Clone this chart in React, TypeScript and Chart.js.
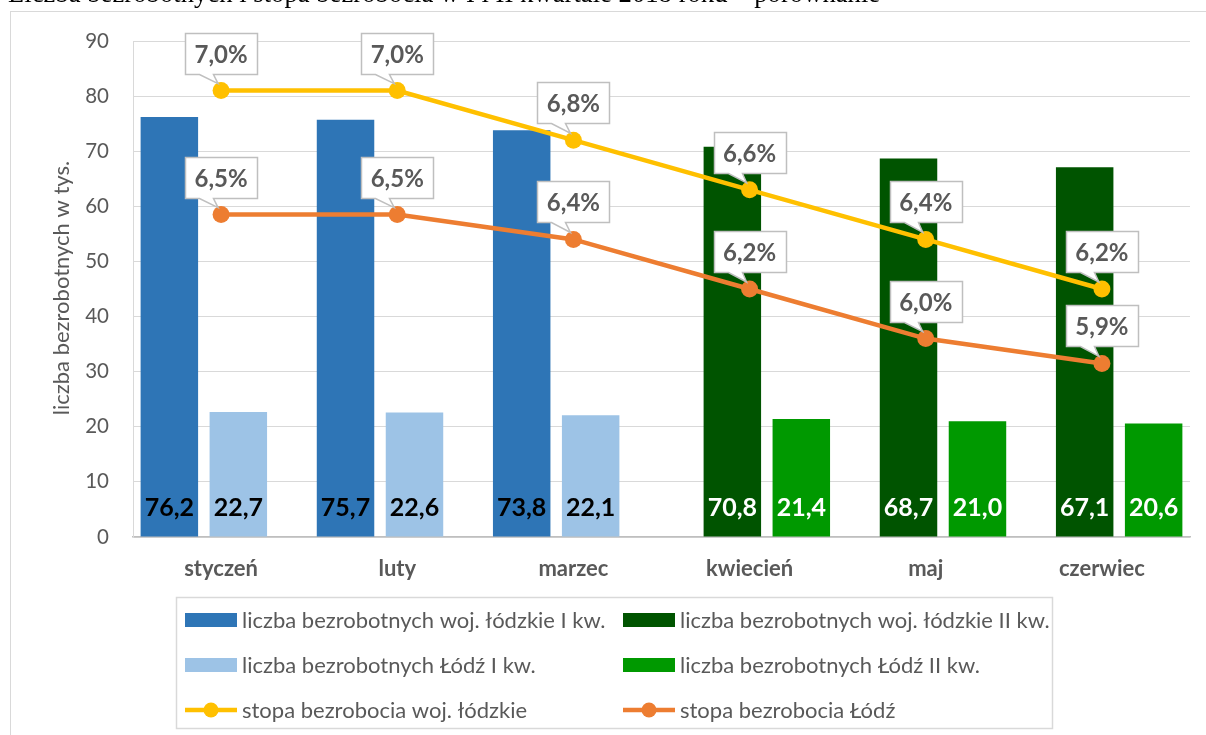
import React, { useEffect, useRef } from "react";
import { Chart, registerables } from "chart.js";

Chart.register(...registerables);

const FONT = "Lato";
const GRAY = "#595959";

const months = ["styczeń", "luty", "marzec", "kwiecień", "maj", "czerwiec"];
const wojQ1 = [76.2, 75.7, 73.8, null, null, null];
const wojQ2 = [null, null, null, 70.8, 68.7, 67.1];
const lodzQ1 = [22.7, 22.6, 22.1, null, null, null];
const lodzQ2 = [null, null, null, 21.4, 21.0, 20.6];
const rateWoj = [7.0, 7.0, 6.8, 6.6, 6.4, 6.2];
const rateLodz = [6.5, 6.5, 6.4, 6.2, 6.0, 5.9];

const seriesNames = [
  "liczba bezrobotnych woj. łódzkie I kw.",
  "liczba bezrobotnych woj. łódzkie II kw.",
  "liczba bezrobotnych Łódź I kw.",
  "liczba bezrobotnych Łódź II kw.",
  "stopa bezrobocia woj. łódzkie",
  "stopa bezrobocia Łódź",
];
const seriesColors = ["#2E75B6", "#005400", "#9DC3E6", "#009900", "#FFC000", "#ED7D31"];
const barLabelColors = ["#000000", "#FFFFFF", "#000000", "#FFFFFF"];

const TITLE = "Liczba bezrobotnych i stopa bezrobocia w I i II kwartale 2018 roku – porównanie";
const Y_TITLE = "liczba bezrobotnych w tys.";

const fmt = (v: number) => v.toFixed(1).replace(".", ",");

function drawCallout(ctx: CanvasRenderingContext2D, px: number, py: number, text: string) {
  ctx.save();
  ctx.font = `bold 24px ${FONT}`;
  const tw = ctx.measureText(text).width;
  const w = Math.round(tw + 19);
  const h = 41;
  const left = Math.round(px - w / 2) + 0.5;
  const bottom = Math.round(py - 17) + 0.5;
  const top = bottom - h;
  ctx.beginPath();
  ctx.moveTo(left, top);
  ctx.lineTo(left + w, top);
  ctx.lineTo(left + w, bottom);
  ctx.lineTo(left + 28, bottom);
  ctx.lineTo(px - 3, py - 7);
  ctx.lineTo(left + 14, bottom);
  ctx.lineTo(left, bottom);
  ctx.closePath();
  ctx.fillStyle = "#FFFFFF";
  ctx.fill();
  ctx.strokeStyle = "#BFBFBF";
  ctx.lineWidth = 1.5;
  ctx.stroke();
  ctx.fillStyle = GRAY;
  ctx.textAlign = "center";
  ctx.textBaseline = "middle";
  ctx.fillText(text, px, top + h / 2 + 1);
  ctx.restore();
}

const labelsPlugin = {
  id: "customLabels",
  beforeDraw(chart: any) {
    const ctx = chart.ctx as CanvasRenderingContext2D;
    ctx.save();
    ctx.fillStyle = "#FFFFFF";
    ctx.fillRect(0, 0, chart.width, chart.height);
    ctx.strokeStyle = "#D9D9D9";
    ctx.lineWidth = 1;
    ctx.strokeRect(10.5, 11.5, chart.width + 20, chart.height + 20);
    ctx.restore();
  },
  afterDatasetsDraw(chart: any) {
    const ctx = chart.ctx as CanvasRenderingContext2D;
    for (let d = 0; d < 4; d++) {
      const meta = chart.getDatasetMeta(d);
      const data = chart.data.datasets[d].data;
      meta.data.forEach((el: any, i: number) => {
        const v = data[i];
        if (v === null || v === undefined) return;
        ctx.save();
        ctx.font = `bold 25px ${FONT}`;
        ctx.fillStyle = barLabelColors[d];
        ctx.textAlign = "center";
        ctx.textBaseline = "middle";
        ctx.fillText(fmt(v), el.x, el.base - 29);
        ctx.restore();
      });
    }
    for (let d = 4; d < 6; d++) {
      const meta = chart.getDatasetMeta(d);
      const data = chart.data.datasets[d].data;
      meta.data.forEach((el: any, i: number) => {
        drawCallout(ctx, el.x, el.y, fmt(data[i]) + "%");
      });
    }
  },
  afterDraw(chart: any) {
    const ctx = chart.ctx as CanvasRenderingContext2D;
    const area = chart.chartArea;
    // y axis title
    ctx.save();
    ctx.translate(69, (area.top + area.bottom) / 2 - 1);
    ctx.rotate(-Math.PI / 2);
    ctx.font = `22px ${FONT}`;
    ctx.fillStyle = GRAY;
    ctx.textAlign = "center";
    ctx.textBaseline = "alphabetic";
    ctx.fillText(Y_TITLE, 0, 0);
    ctx.restore();

    // legend
    const box = { left: 176.5, top: 597.5, right: 1052.5, bottom: 728.5 };
    ctx.save();
    ctx.strokeStyle = "#D9D9D9";
    ctx.lineWidth = 1.5;
    ctx.strokeRect(box.left, box.top, box.right - box.left, box.bottom - box.top);
    const order = [0, 1, 2, 3, 4, 5];
    order.forEach((d, k) => {
      const col = k % 2;
      const row = Math.floor(k / 2);
      const x = col === 0 ? 185 : 623;
      const y = 620 + row * 45;
      const ds = chart.data.datasets[d];
      if (ds.type === "line") {
        ctx.strokeStyle = ds.borderColor;
        ctx.lineWidth = 4.5;
        ctx.beginPath();
        ctx.moveTo(x, y);
        ctx.lineTo(x + 52, y);
        ctx.stroke();
        ctx.fillStyle = ds.borderColor;
        ctx.beginPath();
        ctx.arc(x + 26, y, 7.5, 0, Math.PI * 2);
        ctx.fill();
      } else {
        ctx.fillStyle = ds.backgroundColor;
        ctx.fillRect(x, y - 7, 52, 14);
      }
      ctx.fillStyle = GRAY;
      ctx.font = `22px ${FONT}`;
      ctx.textAlign = "left";
      ctx.textBaseline = "middle";
      ctx.fillText(ds.label, x + 57, y + 1);
    });
    ctx.restore();
  },
};

export default function App() {
  const ref = useRef<HTMLCanvasElement | null>(null);
  useEffect(() => {
    if (!ref.current) return;
    const barCommon = {
      type: "bar" as const,
      categoryPercentage: 0.783,
      barPercentage: 1.667,
      borderWidth: 0,
      order: 1,
      yAxisID: "y",
    };
    const lineCommon = {
      type: "line" as const,
      borderWidth: 4.5,
      pointRadius: 8.5,
      pointBorderWidth: 0,
      yAxisID: "y2",
      order: 0,
    };
    const chart = new Chart(ref.current, {
      type: "bar",
      data: {
        labels: months,
        datasets: [
          { ...barCommon, label: seriesNames[0], data: wojQ1, backgroundColor: seriesColors[0] },
          { ...barCommon, label: seriesNames[1], data: wojQ2, backgroundColor: seriesColors[1] },
          { ...barCommon, label: seriesNames[2], data: lodzQ1, backgroundColor: seriesColors[2] },
          { ...barCommon, label: seriesNames[3], data: lodzQ2, backgroundColor: seriesColors[3] },
          {
            ...lineCommon,
            label: seriesNames[4],
            data: rateWoj,
            borderColor: seriesColors[4],
            backgroundColor: seriesColors[4],
            pointBackgroundColor: seriesColors[4],
          },
          {
            ...lineCommon,
            label: seriesNames[5],
            data: rateLodz,
            borderColor: seriesColors[5],
            backgroundColor: seriesColors[5],
            pointBackgroundColor: seriesColors[5],
          },
        ] as any,
      },
      options: {
        responsive: false,
        animation: false,
        layout: { padding: { left: 10, top: 41, right: 16, bottom: 148 } },
        plugins: { legend: { display: false }, tooltip: { enabled: false } },
        scales: {
          x: {
            grid: { display: false },
            border: { display: true, color: "#BFBFBF", width: 1.5 },
            ticks: { font: { family: FONT, size: 22, weight: "bold" }, color: GRAY, padding: 11 },
            afterFit: (s: any) => {
              s.height = 50;
            },
          },
          y: {
            min: 0,
            max: 90,
            ticks: { stepSize: 10, padding: 24, font: { family: FONT, size: 20.5 }, color: GRAY },
            grid: { color: "#D9D9D9", lineWidth: 1, drawTicks: false },
            border: { display: true, color: "#D9D9D9", width: 1 },
            title: { display: false },
            afterFit: (s: any) => {
              s.width = 123;
            },
          },
          y2: { display: false, min: 5.2, max: 7.2, position: "right" },
        },
      } as any,
      plugins: [labelsPlugin],
    });
    return () => chart.destroy();
  }, []);

  return (
    <div style={{ position: "absolute", left: 0, top: 0, width: 1206, height: 735, overflow: "hidden" }}>
      <canvas ref={ref} width={1206} height={735} style={{ position: "absolute", left: 0, top: 0 }} />
      <div
        style={{
          position: "absolute",
          left: 8,
          top: -22,
          fontFamily: "'Liberation Serif', serif",
          fontSize: 26.7,
          lineHeight: "30px",
          whiteSpace: "nowrap",
          color: "#000",
        }}
      >
        {TITLE}
      </div>
    </div>
  );
}
